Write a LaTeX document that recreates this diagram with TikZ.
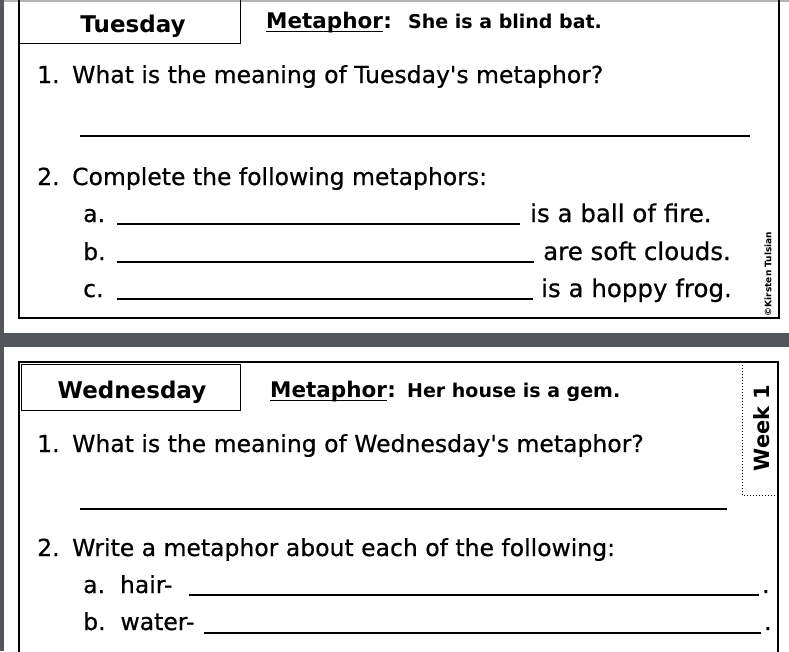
\documentclass[tikz,border=0pt]{standalone}
\usepackage{fontspec}
\setmainfont{DejaVu Sans}
\newfontfamily\comicface[FakeBold=0.6]{DejaVu Sans}
\usetikzlibrary{positioning}
\definecolor{bandgray}{HTML}{53575C}
\definecolor{edgegray}{HTML}{B4B4B4}
\tikzset{cardframe/.style = {draw, line width = 2.6pt},
	daybox/.style = {draw, line width = 0.9pt},
	weektab/.style = {draw, dotted, line width = 1pt},
	txt/.style = {inner sep = 0pt, anchor = base west, font = \comicface\fontsize{23.5}{26}\selectfont},
	phrase/.style = {txt, font = \comicface\fontsize{24.5}{27}\selectfont},
	dayname/.style = {inner sep = 0pt, anchor = base, font = \bfseries\fontsize{23}{26}\selectfont},
	metaname/.style = {inner sep = 0pt, anchor = base west, font = \bfseries\fontsize{21.5}{24}\selectfont},
	saying/.style = {inner sep = 0pt, anchor = base west, font = \bfseries\fontsize{19}{22}\selectfont},
	uline/.style = {line width = 1.8pt},
	ansline/.style = {line width = 1.8pt}}

\begin{document}
\begin{tikzpicture}[x=1pt, y=-1pt]
 \useasboundingbox (0,0) rectangle (789,651);
 \fill[white] (0,0) rectangle (789,651);
 \fill[bandgray] (0,333) rectangle (789,347);
 \fill[bandgray] (0,0) rectangle (4,651);
 \fill[edgegray] (4,0) rectangle (789,2);

 % Tuesday card
 \draw[cardframe] (19,-10) rectangle (779,318);
 \draw[daybox] (19,-10) rectangle (240,43);
 \node (tuesday) at (133,32) [dayname] {Tuesday};
 \node (meta1) at (266,28) [metaname] {Metaphor};
 \node (colon1) at (meta1.base east) [metaname] {:};
 \draw[uline] ([yshift=-3.5pt]meta1.base west) -- ([yshift=-3.5pt]meta1.base east);
 \node (bat) at (408,28) [saying] {She is a blind bat.};

 \node (tq1num) at (37,83) [txt] {1.};
 \node (tq1) at (72,83) [txt] {What is the meaning of Tuesday's metaphor?};
 \draw[ansline] (80,136) -- (750,136);

 \node (tq2num) at (37,185) [txt] {2.};
 \node (tq2) at (72,185) [txt] {Complete the following metaphors:};
 \node (ta) at (83,222) [txt] {a.};
 \draw[ansline] (117,224) -- (520,224);
 \node (fire) at (530,222) [phrase] {is a ball of fire.};
 \node (tb) at (83,260) [txt] {b.};
 \draw[ansline] (117,262) -- (534,262);
 \node (clouds) at (543,260) [phrase] {are soft clouds.};
 \node (tc) at (83,297) [txt] {c.};
 \draw[ansline] (117,299) -- (533,299);
 \node (frog) at (541,297) [phrase] {is a hoppy frog.};
 \node (copy) at (768,274) [rotate=90, inner sep=0pt, font=\bfseries\fontsize{9}{10}\selectfont] {©Kirsten Tulsian};

 % Wednesday card
 \draw[cardframe] (19,362) rectangle (778,665);
 \draw[daybox] (21,364) rectangle (240,410);
 \node (wednesday) at (132,398) [dayname] {Wednesday};
 \node (meta2) at (270,397) [metaname] {Metaphor};
 \node (colon2) at (meta2.base east) [metaname] {:};
 \draw[uline] ([yshift=-3.5pt]meta2.base west) -- ([yshift=-3.5pt]meta2.base east);
 \node (gem) at (407,397) [saying] {Her house is a gem.};
 \draw[weektab] (742,362) -- (742,495) -- (778,495);
 \node (week) at (762,428) [rotate=90, inner sep=0pt, font=\bfseries\fontsize{21}{24}\selectfont] {Week 1};

 \node (wq1num) at (37,452) [txt] {1.};
 \node (wq1) at (72,452) [txt] {What is the meaning of Wednesday's metaphor?};
 \draw[ansline] (80,509) -- (727,509);

 \node (wq2num) at (37,556) [txt] {2.};
 \node (wq2) at (72,556) [txt] {Write a metaphor about each of the following:};
 \node (wa) at (83,593) [txt] {a.\ \ hair-};
 \draw[ansline] (189,595) -- (759,595);
 \node (wadot) at (762,593) [txt] {.};
 \node (wb) at (83,630) [txt] {b.\ \ water-};
 \draw[ansline] (204,633) -- (761,633);
 \node (wbdot) at (764,630) [txt] {.};
\end{tikzpicture}
\end{document}
